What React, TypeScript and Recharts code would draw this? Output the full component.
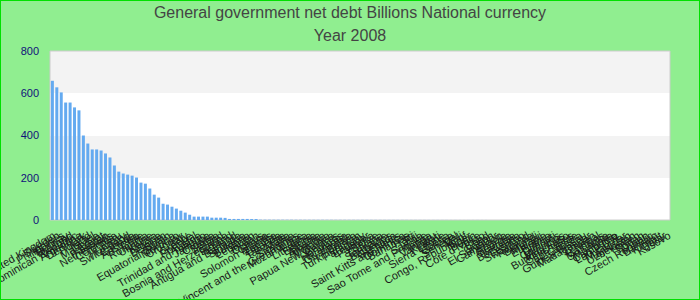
import React from 'react';
import { BarChart, Bar, XAxis, YAxis, CartesianGrid, ReferenceArea } from 'recharts';

const countries = [
  'United Kingdom', 'Sweden', 'Philippines', 'Norway', 'Thailand', 'Dominican Republic', 'Argentina', 'Denmark', 'Poland', 'Israel',
  'Malaysia', 'Egypt', 'Pakistan', 'Netherlands', 'Colombia', 'Peru', 'Hungary', 'Switzerland', 'Canada', 'Australia',
  'Chile', 'Romania', 'Ukraine', 'Kenya', 'Nigeria', 'Belgium', 'Spain', 'Equatorial Guinea', 'Morocco', 'Uruguay',
  'Italy', 'Greece', 'Portugal', 'Austria', 'Trinidad and Tobago', 'Jamaica', 'Croatia', 'Serbia', 'Ireland', 'Bosnia and Herzegovina',
  'Finland', 'Iceland', 'Antigua and Barbuda', 'Slovakia', 'Bulgaria', 'Lebanon', 'Jordan', 'Cyprus', 'Ghana', 'Solomon Islands',
  'Zambia', 'Uganda', 'Tanzania', 'Malta', 'Slovenia', 'Saint Vincent and the Grenadines', 'Mozambique', 'Latvia', 'Lithuania', 'Estonia',
  'Albania', 'Armenia', 'Moldova', 'Papua New Guinea', 'Belarus', 'Honduras', 'Nicaragua', 'Guatemala', 'Bolivia', 'Turkmenistan',
  'Paraguay', 'Ecuador', 'Panama', 'Belize', 'Guyana', 'Suriname', 'Barbados', 'Grenada', 'Saint Kitts and Nevis', 'Dominica',
  'Bahamas', 'Haiti', 'Fiji', 'Samoa', 'Sao Tome and Principe', 'Tonga', 'Vanuatu', 'Kiribati', 'Sierra Leone', 'Liberia',
  'Guinea', 'Senegal', 'Mali', 'Congo, Republic of', 'Niger', 'Benin', "Cote d'Ivoire", 'Togo', 'Chad', 'Gabon',
  'El Salvador', 'Cameroon', 'Angola', 'Georgia', 'Namibia', 'Botswana', 'Lesotho', 'Swaziland', 'Rwanda', 'Burundi',
  'Malawi', 'Ethiopia', 'Eritrea', 'Djibouti', 'Comoros', 'Mauritius', 'Burkina Faso', 'Seychelles', 'Cape Verde', 'Gambia',
  'Guinea-Bissau', 'Madagascar', 'Bhutan', 'Nepal', 'Maldives', 'Sri Lanka', 'Mongolia', 'Cambodia', 'Lao P.D.R.', 'Myanmar',
  'Tajikistan', 'Uzbekistan', 'Yemen', 'Sudan', 'Oman', 'Czech Republic', 'Bahrain', 'Kuwait', 'Qatar', 'Kosovo',
];

const debtValues = [
  659, 628, 604, 556, 556, 533, 519, 400, 362, 334,
  334, 329, 315, 296, 258, 229, 220, 215, 210, 201,
  177, 172, 149, 120, 106, 77, 73, 63, 54, 44,
  35, 25, 16, 16, 16, 16, 11, 11, 11, 10,
  5, 5, 5, 5, 5, 4.5, 4.5,
  1.5, 1.4, 1.35, 1.3, 1.25, 1.2, 1.15, 1.1, 1.05, 1.0,
  0.96, 0.92, 0.9, 0.87, 0.84, 0.8, 0.78, 0.75, 0.72, 0.7,
  0.68, 0.65, 0.62, 0.6, 0.58, 0.55, 0.52, 0.5, 0.48, 0.46,
  0.44, 0.42, 0.4, 0.38, 0.36, 0.35, 0.33, 0.32, 0.3, 0.29,
  0.28, 0.26, 0.25, 0.24, 0.22, 0.21, 0.2, 0.19, 0.18, 0.17,
  0.16, 0.15, 0.14, 0.13, 0.12, 0.11, 0.1, 0.095, 0.09, 0.085,
  0.08, 0.075, 0.07, 0.065, 0.06, 0.055, 0.05, 0.045, 0.04, 0.038,
  0.035, 0.032, 0.03, 0.028, 0.025, 0.022, 0.02, 0.018, 0.016, 0.014,
  0.012, 0.011, 0.01, 0.009, 0.008, 0.007, 0.006, 0.005, 0.004, 0.003,
  0.002, 0.0015, 0.001,
];

const yTicks = [0, 200, 400, 600, 800];
const titleLines = ['General government net debt Billions National currency', 'Year 2008'];

const data = countries.map((c, i) => ({ country: c, value: debtValues[i] }));

const FONT = '"Liberation Sans", Arial, sans-serif';

export default function App() {
  return (
    <div
      style={{
        position: 'absolute',
        left: 0,
        top: 0,
        width: 700,
        height: 300,
        background: '#90EE90',
        fontFamily: FONT,
        overflow: 'hidden',
      }}
    >
      <BarChart
        width={700}
        height={300}
        data={data}
        margin={{ top: 51, right: 30, bottom: 0, left: 0 }}
        barCategoryGap="20%"
        style={{ fontFamily: FONT }}
      >
        <CartesianGrid vertical={false} stroke="none" horizontalFill={['#f3f3f3', '#ffffff']} fillOpacity={1} />
        <XAxis
          dataKey="country"
          interval={0}
          angle={-30}
          height={80}
          tickLine={false}
          axisLine={false}
          tickMargin={5}
          tick={{ fontSize: 11, fill: '#1a1a1a', textAnchor: 'end' }}
        />
        <YAxis
          domain={[0, 800]}
          ticks={yTicks}
          width={50}
          tickLine={false}
          axisLine={false}
          tickMargin={5}
          tick={{ fontSize: 11, fill: '#10107a' }}
        />
        <ReferenceArea y1={0} y2={800} fill="none" stroke="#cccccc" strokeWidth={1} ifOverflow="visible" />
        <Bar dataKey="value" fill="#64aaf0" isAnimationActive={false} />
      </BarChart>
      {titleLines.map((t, i) => (
        <div
          key={i}
          style={{
            position: 'absolute',
            left: 0,
            width: 700,
            top: i === 0 ? 4.5 : 28,
            textAlign: 'center',
            fontSize: 16,
            lineHeight: '16px',
            color: '#444',
            whiteSpace: 'nowrap',
          }}
        >
          {t}
        </div>
      ))}
      <div
        style={{
          position: 'absolute',
          left: 0,
          top: 0,
          width: 700,
          height: 300,
          boxSizing: 'border-box',
          border: '1px solid #00e000',
          pointerEvents: 'none',
        }}
      />
    </div>
  );
}
